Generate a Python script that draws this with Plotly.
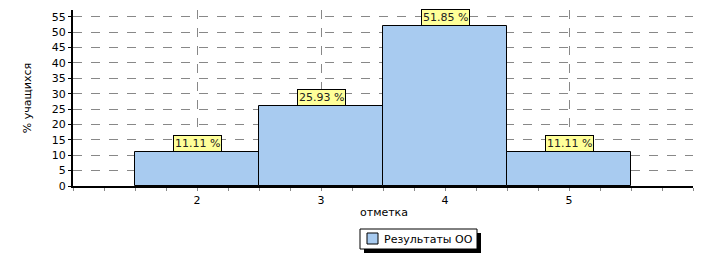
import plotly.graph_objects as go

categories = [2, 3, 4, 5]
values = [11.11, 25.93, 51.85, 11.11]
labels = ["11.11 %", "25.93 %", "51.85 %", "11.11 %"]
series_name = "Результаты ОО"
bar_color = "#A8CBF0"

L, R, T, B = 73, 26, 10, 76
W, H = 719, 262
pw, ph = W - L - R, H - T - B


def px(xp):
    return (xp - L) / pw


def py(yp):
    return (T + ph - yp) / ph


fig = go.Figure()
fig.add_trace(go.Bar(
    x=categories, y=values, width=1, name=series_name,
    marker=dict(color=bar_color, line=dict(color="black", width=1)),
    showlegend=False,
))

for c, v, t in zip(categories, values, labels):
    fig.add_annotation(x=c, y=v, text=t, showarrow=False, yanchor="bottom",
                       xanchor="center", yshift=0,
                       bgcolor="#FFFF99", bordercolor="black", borderwidth=1,
                       borderpad=1, font=dict(size=11, color="#222222"))

# custom legend (box with shadow, swatch, text)
lx0, lx1, ly0, ly1 = 360, 477, 229, 249
fig.add_shape(type="rect", xref="paper", yref="paper", layer="above",
              x0=px(lx0 + 4), x1=px(lx1 + 4), y0=py(ly1 + 4), y1=py(ly0 + 4),
              fillcolor="black", line=dict(width=0))
fig.add_shape(type="rect", xref="paper", yref="paper", layer="above",
              x0=px(lx0), x1=px(lx1), y0=py(ly1), y1=py(ly0),
              fillcolor="white", line=dict(color="black", width=1))
fig.add_shape(type="rect", xref="paper", yref="paper", layer="above",
              x0=px(367), x1=px(378), y0=py(244), y1=py(233),
              fillcolor=bar_color, line=dict(color="black", width=1))
fig.add_annotation(xref="paper", yref="paper", x=px(382), y=py(239),
                   text=series_name, showarrow=False, xanchor="left",
                   yanchor="middle", font=dict(size=11, color="black"))

# x axis title placed as text
fig.add_annotation(xref="paper", yref="paper", x=px(384), y=py(212),
                   text="отметка", showarrow=False, xanchor="center",
                   yanchor="middle", font=dict(size=11, color="black"))

fig.update_layout(
    width=W, height=H,
    margin=dict(l=L, r=R, t=T, b=B),
    plot_bgcolor="white", paper_bgcolor="white",
    font=dict(family="DejaVu Sans", size=11, color="black"),
    bargap=0,
    showlegend=False,
    xaxis=dict(range=[1, 6], tickvals=categories, ticktext=[str(c) for c in categories],
               showgrid=True, griddash="dash", gridcolor="#888888", gridwidth=1,
               showline=True, linecolor="black", linewidth=2,
               ticks="outside", ticklen=3, tickcolor="#888888",
               minor=dict(dtick=0.25, tick0=0, ticks="outside", ticklen=3,
                          tickcolor="#888888", showgrid=False),
               zeroline=False, fixedrange=True, automargin=False),
    yaxis=dict(range=[0, 57.2], dtick=5, tick0=0,
               showgrid=True, griddash="dash", gridcolor="#888888", gridwidth=1,
               showline=True, linecolor="black", linewidth=2,
               ticks="outside", ticklen=3, tickcolor="black",
               title=dict(text="% учащихся", font=dict(size=11), standoff=18),
               zeroline=False, fixedrange=True, automargin=False),
)

fig.write_html("out.html")
